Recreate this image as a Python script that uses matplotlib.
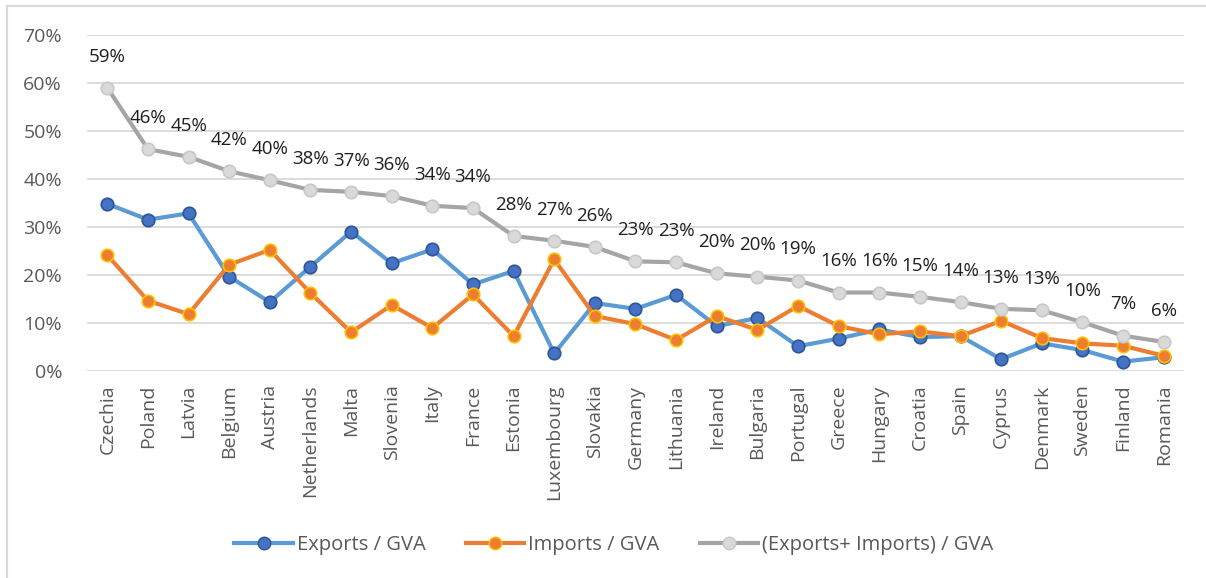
import matplotlib
matplotlib.use("Agg")
from matplotlib import pyplot as plt
from matplotlib.lines import Line2D
from matplotlib.ticker import FuncFormatter

plt.rcParams['font.family'] = ['Open Sans', 'DejaVu Sans']

countries = ["Czechia", "Poland", "Latvia", "Belgium", "Austria", "Netherlands", "Malta",
             "Slovenia", "Italy", "France", "Estonia", "Luxembourg", "Slovakia", "Germany",
             "Lithuania", "Ireland", "Bulgaria", "Portugal", "Greece", "Hungary", "Croatia",
             "Spain", "Cyprus", "Denmark", "Sweden", "Finland", "Romania"]

exports = [34.8, 31.5, 32.8, 19.6, 14.3, 21.7, 29.0, 22.4, 25.3, 18.0, 20.8, 3.6, 14.1,
           12.9, 15.8, 9.3, 11.0, 5.1, 6.7, 8.6, 7.0, 7.2, 2.4, 5.7, 4.3, 1.9, 2.8]
imports = [24.1, 14.6, 11.8, 22.1, 25.2, 16.2, 8.0, 13.7, 8.9, 15.9, 7.2, 23.2, 11.4,
           9.7, 6.4, 11.4, 8.5, 13.5, 9.3, 7.6, 8.2, 7.2, 10.4, 6.8, 5.7, 5.2, 3.1]
total = [59.0, 46.2, 44.6, 41.6, 39.7, 37.7, 37.3, 36.4, 34.4, 33.9, 28.1, 27.1, 25.8,
         22.8, 22.6, 20.3, 19.6, 18.8, 16.3, 16.3, 15.4, 14.3, 12.9, 12.6, 10.1, 7.3, 6.0]

fig = plt.figure(figsize=(12.06, 5.78), dpi=100)
ax = fig.add_axes([87 / 1206, 1 - 370.7 / 578, (1184 - 87) / 1206, (370.7 - 35) / 578])

x = list(range(len(countries)))
ax.plot(x, exports, '-o', color='#5B9BD5', lw=3, ms=9, mfc='#4472C4', mec='#2F5597', mew=1.2, zorder=3)
ax.plot(x, imports, '-o', color='#ED7D31', lw=3, ms=9, mfc='#ED7D31', mec='#FFC000', mew=1.2, zorder=4)
ax.plot(x, total, '-o', color='#A5A5A5', lw=3, ms=9, mfc='#D9D9D9', mec='#C8C8C8', mew=1.2, zorder=5)

for xi, v in zip(x, total):
    ax.annotate(f"{round(v)}%", (xi, v), xytext=(0, 16), textcoords='offset points',
                ha='center', va='bottom', fontsize=13.5, color='#1F1F1F')

ax.set_xlim(-0.5, len(countries) - 0.5)
ax.set_ylim(0, 70)
ax.set_yticks(range(0, 71, 10))
ax.yaxis.set_major_formatter(FuncFormatter(lambda v, p: f"{v:.0f}%"))
ax.set_xticks(x)
ax.set_xticklabels(countries, rotation=90)
ax.tick_params(axis='both', length=0, labelsize=14, labelcolor='#595959')
ax.tick_params(axis='y', pad=18)
ax.tick_params(axis='x', pad=10)
ax.grid(axis='y', color='#D9D9D9', lw=1.3)
ax.set_axisbelow(True)
for s in ax.spines.values():
    s.set_visible(False)

handles = [
    Line2D([], [], color='#5B9BD5', lw=3, marker='o', ms=9, mfc='#4472C4', mec='#2F5597'),
    Line2D([], [], color='#ED7D31', lw=3, marker='o', ms=9, mfc='#ED7D31', mec='#FFC000'),
    Line2D([], [], color='#A5A5A5', lw=3, marker='o', ms=9, mfc='#D9D9D9', mec='#C8C8C8'),
]
fig.legend(handles, ["Exports / GVA", "Imports / GVA", "(Exports+ Imports) / GVA"],
           loc='center', bbox_to_anchor=(614 / 1206, 1 - 545 / 578), ncol=3, frameon=False,
           fontsize=14.5, labelcolor='#595959', handlelength=2.9, handletextpad=0.2,
           columnspacing=2.0)

# chart border (only top and left edges are visible in the crop)
fig.add_artist(Line2D([7 / 1206, 1], [1 - 6 / 578, 1 - 6 / 578], color='#D9D9D9', lw=1.5))
fig.add_artist(Line2D([7 / 1206, 7 / 1206], [0, 1 - 6 / 578], color='#D9D9D9', lw=1.5))

fig.savefig("out.png", dpi=100)
